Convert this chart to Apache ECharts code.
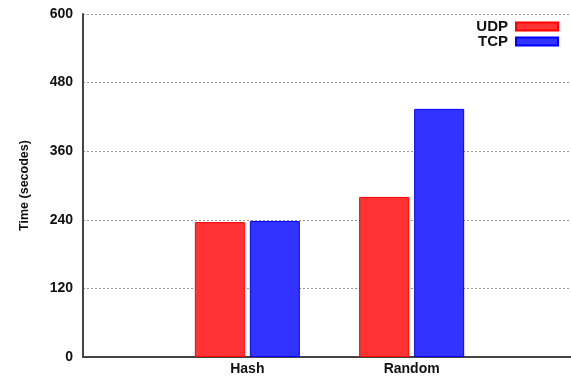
<!DOCTYPE html>
<html>
<head>
<meta charset="utf-8">
<script src="https://cdn.jsdelivr.net/npm/echarts@6/dist/echarts.min.js"></script>
<style>
  html, body { margin: 0; padding: 0; background: #fff; }
  #chart { width: 571px; height: 377px; }
</style>
</head>
<body>
<div id="chart"></div>
<script>
// Workload categories, placed at x = 1, 2, ... on a 0..3 axis
const categories = ['Hash', 'Random'];
// Completion time in seconds
const udpTimes = [236, 280];
const tcpTimes = [238, 434];
const yTicks = [0, 120, 240, 360, 480, 600];

const FONT = '"Liberation Sans", Arial, Helvetica, sans-serif';

const chart = echarts.init(document.getElementById('chart'), null, { renderer: 'canvas' });

function toPoints(values) {
  return values.map((v, i) => [i + 1, v]);
}

chart.setOption({
  animation: false,
  backgroundColor: '#ffffff',
  // plot area runs past the right edge of the canvas
  grid: { left: 83, top: 14, width: 493, bottom: 20, containLabel: false, outerBoundsMode: 'none' },
  legend: {
    orient: 'vertical',
    right: 7,
    top: 14,
    align: 'right',
    itemWidth: 42,
    itemHeight: 8,
    itemGap: 0,
    icon: 'rect',
    textStyle: { fontFamily: FONT, fontWeight: 'bold', fontSize: 15, color: '#111', lineHeight: 14, padding: [0, 3, 0, 0] },
    data: ['UDP', 'TCP']
  },
  xAxis: {
    type: 'value',
    min: 0,
    max: 3,
    interval: 1,
    axisLine: { show: true, lineStyle: { color: '#444', width: 2 } },
    axisTick: { show: false },
    splitLine: { show: false },
    axisLabel: {
      margin: 5,
      fontFamily: FONT,
      fontWeight: 'bold',
      fontSize: 14,
      color: '#111',
      showMinLabel: false,
      showMaxLabel: false,
      formatter: v => categories[v - 1] || ''
    }
  },
  yAxis: {
    type: 'value',
    min: yTicks[0],
    max: yTicks[yTicks.length - 1],
    interval: yTicks[1] - yTicks[0],
    name: 'Time (secodes)',
    nameLocation: 'middle',
    nameGap: 52,
    nameTextStyle: { fontFamily: FONT, fontWeight: 'bold', fontSize: 12.5, color: '#111' },
    axisLine: { show: true, lineStyle: { color: '#444', width: 2 } },
    axisTick: { show: false },
    axisLabel: { margin: 10, fontFamily: FONT, fontWeight: 'bold', fontSize: 14, color: '#111' },
    splitLine: { show: true, lineStyle: { color: '#999', width: 1, type: [2, 2] } }
  },
  series: [
    {
      name: 'UDP',
      type: 'bar',
      barWidth: 50,
      barGap: '10%',
      data: toPoints(udpTimes),
      itemStyle: { color: '#ff3333', borderColor: '#ff0000', borderWidth: 1 }
    },
    {
      name: 'TCP',
      type: 'bar',
      barWidth: 50,
      barGap: '10%',
      data: toPoints(tcpTimes),
      itemStyle: { color: '#3333ff', borderColor: '#0000ff', borderWidth: 1 }
    }
  ]
});
</script>
</body>
</html>
